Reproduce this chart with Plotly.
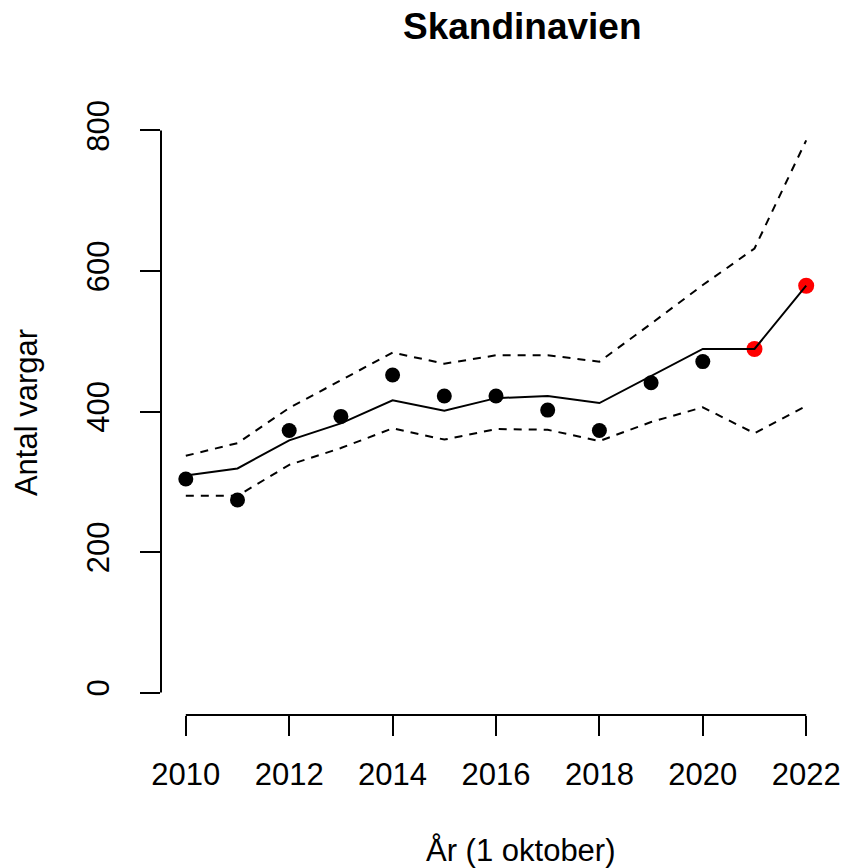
import plotly.graph_objects as go

years = list(range(2010, 2023))
obs_years = list(range(2010, 2021))
obs_values = [304, 274, 373, 393, 452, 422, 422, 402, 373, 441, 471]
red_years = [2021, 2022]
red_values = [489, 579]
est_values = [309, 319, 359, 383, 416, 401, 419, 422, 412, 451, 489, 489, 579]
upper_values = [337, 355, 405, 445, 484, 468, 480, 480, 471, 525, 580, 632, 786]
lower_values = [280, 280, 324, 348, 376, 360, 375, 374, 358, 385, 406, 369, 408]
x_ticks = [2010, 2012, 2014, 2016, 2018, 2020, 2022]
y_ticks = [0, 200, 400, 600, 800]

FONT = "Liberation Sans, Arial, sans-serif"

fig = go.Figure()
fig.add_trace(go.Scatter(x=obs_years, y=obs_values, mode="markers",
                         marker=dict(color="black", size=15, line=dict(width=0)),
                         showlegend=False))
fig.add_trace(go.Scatter(x=red_years, y=red_values, mode="markers",
                         marker=dict(color="#ff0000", size=16, line=dict(width=0)),
                         showlegend=False))
fig.add_trace(go.Scatter(x=years, y=est_values, mode="lines",
                         line=dict(color="black", width=2), showlegend=False))
fig.add_trace(go.Scatter(x=years, y=upper_values, mode="lines",
                         line=dict(color="black", width=2, dash="8px,7px"), showlegend=False))
fig.add_trace(go.Scatter(x=years, y=lower_values, mode="lines",
                         line=dict(color="black", width=2, dash="8px,7px"), showlegend=False))

# detached R-style axis lines
fig.add_shape(type="line", xref="paper", yref="y", x0=0, x1=0, y0=0, y1=800,
              line=dict(color="black", width=2))
fig.add_shape(type="line", xref="x", yref="paper", x0=2010, x1=2022, y0=0, y1=0,
              line=dict(color="black", width=2))

fig.update_xaxes(range=[2009.52, 2022.48], showgrid=False, zeroline=False, showline=False,
                 automargin=False,
                 tickvals=x_ticks, ticks="outside", ticklen=20, tickwidth=2, tickcolor="black",
                 tickfont=dict(family=FONT, size=31, color="black"), ticklabelstandoff=12)
fig.update_yaxes(range=[-32, 832], showgrid=False, zeroline=False, showline=False,
                 automargin=False,
                 tickvals=y_ticks, ticks="outside", ticklen=20, tickwidth=2, tickcolor="black",
                 tickangle=-90,
                 tickfont=dict(family=FONT, size=31, color="black"), ticklabelstandoff=19)

fig.add_annotation(text="<b>Skandinavien</b>", xref="paper", yref="paper", x=0.539, y=1.134,
                   xanchor="center", yanchor="middle", showarrow=False,
                   font=dict(family=FONT, size=37, color="black"))
fig.add_annotation(text="År (1 oktober)", xref="paper", yref="paper", x=0.538, y=-0.223,
                   xanchor="center", yanchor="middle", showarrow=False,
                   font=dict(family=FONT, size=31, color="black"))
fig.add_annotation(text="Antal vargar", xref="paper", yref="paper", x=-0.2015, y=0.499,
                   xanchor="center", yanchor="middle", showarrow=False, textangle=-90,
                   font=dict(family=FONT, size=31, color="black"))

fig.update_layout(width=843, height=868, margin=dict(l=161, r=12, t=107.5, b=152.5),
                  plot_bgcolor="white", paper_bgcolor="white")
fig.write_html("out.html", config={"displayModeBar": False},
               post_script="document.body.style.margin='0';document.body.style.overflow='hidden';")
